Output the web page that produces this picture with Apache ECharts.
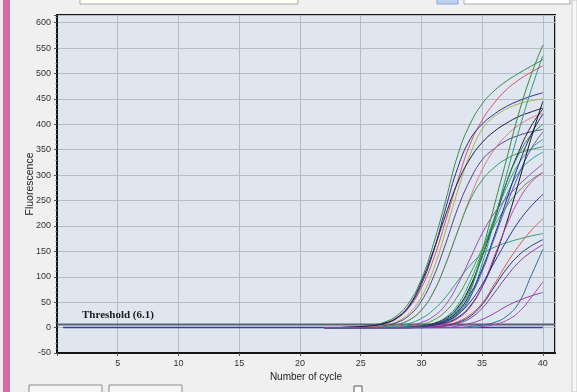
<!DOCTYPE html>
<html>
<head>
<meta charset="utf-8">
<script src="https://cdn.jsdelivr.net/npm/echarts@6/dist/echarts.min.js"></script>
<style>
  html, body { margin: 0; padding: 0; background: #f0f0f0; }
  #chart { width: 577px; height: 392px; }
</style>
</head>
<body>
<div id="chart"></div>
<script>
// cycles where the curves are drawn (before 22 everything sits on the baseline)
var cycles = [22, 23, 24, 25, 26, 27, 28, 29, 30, 31, 32, 33, 34, 35, 36, 37, 38, 39, 40];

// fluorescence, one array per well
var G1 = [0, 0, 1, 2, 5, 11, 24, 50, 95, 165, 250, 340, 400, 440, 466, 485, 500, 514, 527];
var R1 = [0, 0, 0, 1, 3, 8, 18, 40, 78, 135, 210, 290, 360, 408, 442, 468, 487, 502, 515];
var N1 = [0, 0, 0, 1, 3, 8, 19, 42, 85, 150, 235, 315, 370, 400, 420, 435, 446, 455, 462];
var O1 = [0, 0, 0, 0, 2, 5, 12, 28, 60, 115, 190, 270, 340, 390, 415, 430, 440, 446, 450];
var K1 = [0, 0, 0, 0, 1, 4, 10, 24, 52, 100, 165, 235, 290, 330, 352, 368, 378, 385, 390];
var K4 = [0, 0, 1, 2, 4, 9, 20, 44, 90, 152, 222, 286, 332, 364, 386, 402, 415, 424, 432];
var PK = [0, 0, 0, 0, 1, 2, 6, 15, 35, 70, 125, 190, 255, 310, 350, 378, 398, 412, 422];
var G2 = [0, 0, 0, 0, 0, 2, 6, 15, 34, 70, 125, 190, 250, 290, 315, 332, 343, 350, 356];
var T4 = [0, 0, 0, 0, 0, 1, 3, 8, 18, 35, 60, 92, 122, 145, 158, 167, 174, 180, 185];
var P1 = [0, 0, 0, 0, 0, 0, 1, 4, 10, 22, 45, 85, 135, 185, 225, 255, 280, 302, 322];
var G4 = [0, 0, 0, 0, 0, 0, 0, 2, 6, 15, 32, 62, 105, 155, 200, 238, 268, 290, 305];
var T3 = [0, 0, 0, 0, 0, 0, 0, 1, 2, 6, 16, 38, 80, 140, 205, 260, 305, 330, 345];
var T2 = [0, 0, 0, 0, 0, 0, 0, 1, 3, 8, 20, 45, 90, 150, 215, 275, 322, 352, 370];
var K3 = [0, 0, 0, 0, 0, 0, 0, 1, 3, 8, 18, 40, 80, 140, 210, 285, 345, 395, 430];
var G3 = [0, 0, 0, 0, 0, 0, 0, 0, 2, 5, 12, 30, 70, 150, 240, 330, 420, 495, 556];
var T1 = [0, 0, 0, 0, 0, 0, 0, 0, 1, 4, 10, 25, 58, 125, 210, 300, 385, 465, 535];
var G5 = [0, 0, 0, 0, 0, 0, 0, 0, 2, 6, 15, 35, 75, 140, 215, 285, 340, 378, 400];
var N3 = [0, 0, 0, 0, 0, 0, 0, 0, 2, 6, 14, 32, 65, 115, 180, 250, 320, 378, 420];
var B1 = [0, 0, 0, 0, 0, 0, 0, 0, 2, 5, 12, 28, 60, 110, 175, 240, 300, 350, 385];
var K2 = [0, 0, 0, 0, 0, 0, 0, 0, 1, 4, 9, 20, 42, 80, 135, 205, 285, 370, 445];
var P2 = [0, 0, 0, 0, 0, 0, 0, 0, 1, 3, 8, 18, 40, 80, 140, 200, 250, 285, 305];
var N2 = [0, 0, 0, 0, 0, 0, 0, 0, 1, 5, 12, 26, 50, 85, 128, 170, 208, 238, 262];
var R2 = [0, 0, 0, 0, 0, 0, 0, 0, 0, 2, 5, 12, 25, 48, 85, 125, 160, 190, 214];
var N4 = [0, 0, 0, 0, 0, 0, 0, 0, 0, 1, 4, 10, 22, 45, 80, 115, 142, 160, 173];
var P3 = [0, 0, 0, 0, 0, 0, 0, 0, 0, 1, 3, 8, 18, 38, 68, 100, 128, 148, 163];
var B2 = [0, 0, 0, 0, 0, 0, 0, 0, 0, 0, 0, 0, 2, 5, 10, 22, 48, 100, 154];
var P4 = [0, 0, 0, 0, 0, 0, 0, 0, 0, 0, 0, 0, 0, 2, 6, 14, 30, 58, 90];
var P5 = [0, 0, 0, 0, 0, 0, 0, 0, 0, 0, 0, 3, 8, 16, 28, 42, 53, 62, 69];

var wells = [
  [G1, "#3f8a3f"], [R1, "#d8506a"], [N1, "#26308a"], [O1, "#a8b050"],
  [K1, "#5a3c90"], [K4, "#1c1c50"], [PK, "#e07890"], [G2, "#3c9a5a"],
  [T4, "#3a9a7a"], [P1, "#9a48b0"], [G4, "#4a9a48"], [T3, "#2a9a98"],
  [T2, "#30a080"], [K3, "#202028"], [G3, "#3a8a3a"], [T1, "#2a9a88"],
  [G5, "#2f8f4f"], [N3, "#1e2878"], [B1, "#5058c0"], [K2, "#151515"],
  [P2, "#c040c0"], [N2, "#283098"], [R2, "#d85858"], [N4, "#283878"],
  [P3, "#8a3aa0"], [B2, "#2a6a9a"], [P4, "#b040b8"], [P5, "#9040a8"]
];

// baseline and threshold
var baseX = [0.5, 40];
var baseY = [0, 0];
var thrX = [0, 41];
var thrY = [6.1, 6.1];
var threshold = 6.1;

var xTicks = [5, 10, 15, 20, 25, 30, 35, 40];

var myChart = echarts.init(document.getElementById("chart"));

var series = [];
series.push({
  type: "line",
  data: baseX.map(function (x, i) { return [x, baseY[i]]; }),
  symbol: "none",
  lineStyle: { color: "#3040a0", width: 1.5 },
  z: 3
});
wells.forEach(function (w) {
  series.push({
    type: "line",
    data: cycles.map(function (c, i) { return [c, w[0][i]]; }),
    symbol: "none",
    smooth: 0.45,
    lineStyle: { color: w[1], width: 1 },
    z: 4
  });
});
series.push({
  type: "line",
  data: thrX.map(function (x, i) { return [x, thrY[i]]; }),
  symbol: "none",
  lineStyle: { color: "#5a6274", width: 2 },
  z: 2
});

var option = {
  backgroundColor: "#f0f0f0",
  animation: false,
  grid: {
    left: 57,
    right: 22,
    top: 15,
    bottom: 39,
    show: true,
    backgroundColor: "#dfe6f0",
    borderColor: "#151515",
    borderWidth: 2
  },
  xAxis: {
    type: "value",
    min: 0,
    max: 41,
    interval: 5,
    name: "Number of cycle",
    nameLocation: "middle",
    nameGap: 19,
    nameMoveOverlap: false,
    nameTextStyle: { fontFamily: "Liberation Sans", fontSize: 10, color: "#222" },
    axisLine: { onZero: false, lineStyle: { color: "#151515", width: 2 } },
    axisTick: { show: true, length: 3, lineStyle: { color: "#555" } },
    axisLabel: {
      fontFamily: "Liberation Sans",
      fontSize: 9,
      color: "#333",
      margin: 6,
      showMaxLabel: false,
      formatter: function (v) { return xTicks.indexOf(v) >= 0 ? String(v) : ""; }
    },
    splitLine: { show: true, lineStyle: { color: "#b6bcc6", width: 1 } }
  },
  yAxis: {
    type: "value",
    min: -50,
    max: 615,
    interval: 50,
    name: "Fluorescence",
    nameLocation: "middle",
    nameGap: 21,
    nameMoveOverlap: false,
    nameTextStyle: { fontFamily: "Liberation Sans", fontSize: 10.5, color: "#222" },
    axisLine: { show: true, lineStyle: { color: "#151515", width: 2 } },
    axisTick: { show: true, length: 3, lineStyle: { color: "#555" } },
    minorTick: { show: true, splitNumber: 5, length: 1.5, lineStyle: { color: "#777" } },
    axisLabel: {
      fontFamily: "Liberation Sans",
      fontSize: 9,
      color: "#333",
      margin: 6,
      showMaxLabel: false,
      formatter: function (v) { return v % 50 === 0 ? String(v) : ""; }
    },
    splitLine: { show: true, lineStyle: { color: "#b6bcc6", width: 1 } }
  },
  graphic: [
    // window chrome around the plot
    { type: "rect", shape: { x: 0, y: 0, width: 3, height: 392 }, style: { fill: "#f3eaf0" }, silent: true },
    { type: "rect", shape: { x: 3, y: 0, width: 7, height: 392 }, style: { fill: "#d46aa6" }, silent: true },
    { type: "rect", shape: { x: 80, y: -3, width: 218, height: 7 }, style: { fill: "#fffff6", stroke: "#a8a8a8" }, silent: true },
    { type: "rect", shape: { x: 437, y: -3, width: 21, height: 7 }, style: { fill: "#bcd2f0", stroke: "#86a6d6" }, silent: true },
    { type: "rect", shape: { x: 464, y: -3, width: 106, height: 7 }, style: { fill: "#ffffff", stroke: "#a8a8a8" }, silent: true },
    { type: "rect", shape: { x: 29, y: 385, width: 73, height: 12 }, style: { fill: "#f6f6f6", stroke: "#8c8c8c" }, silent: true },
    { type: "rect", shape: { x: 109, y: 385, width: 73, height: 12 }, style: { fill: "#f6f6f6", stroke: "#8c8c8c" }, silent: true },
    { type: "rect", shape: { x: 354, y: 386, width: 8, height: 8 }, style: { fill: "#ffffff", stroke: "#555" }, silent: true },
    { type: "rect", shape: { x: 572, y: 0, width: 5, height: 392 }, style: { fill: "#f7f7f7", stroke: "#c8c8c8" }, silent: true },
    {
      type: "text",
      left: 82,
      top: 310,
      style: {
        text: "Threshold (" + threshold + ")",
        font: "bold 11px 'Liberation Serif'",
        fill: "#1a1a1a"
      },
      z: 10
    }
  ],
  series: series
};

myChart.setOption(option);
</script>
</body>
</html>
